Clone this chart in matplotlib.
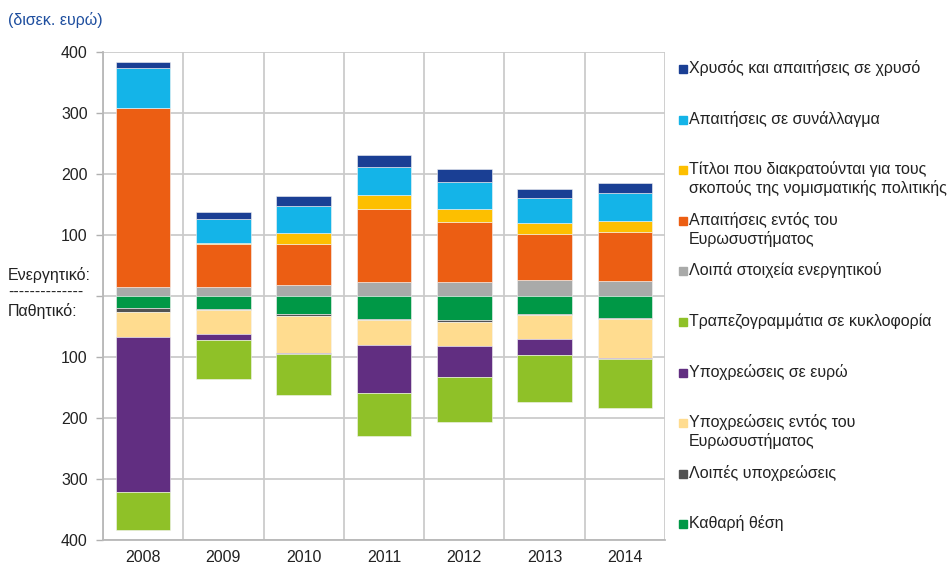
import numpy as np
import matplotlib
matplotlib.use('Agg')
import matplotlib.pyplot as plt
from matplotlib.patches import Rectangle

plt.rcParams['font.family'] = ['Liberation Sans', 'DejaVu Sans']

years = ['2008', '2009', '2010', '2011', '2012', '2013', '2014']

# ενεργητικό (από το μηδέν προς τα πάνω)
other_assets = [15, 15, 18, 23, 23, 25.7, 24.6]
intra_claims = [294, 70, 67, 119, 97.7, 76, 80.8]
securities = [0, 2.7, 18.5, 23.6, 22, 18, 18]
fx_claims = [64, 38, 44.5, 46.4, 44.4, 41, 45.8]
gold = [10.6, 12.3, 16.5, 19, 20.7, 14.4, 15.6]

# παθητικό (από το μηδέν προς τα κάτω)
net_position = [20, 21, 29.5, 38, 40, 30, 36.6]
other_liab = [7, 1.5, 2.5, 2, 2, 1, 1.5]
intra_liab = [41, 39, 61, 41, 40, 40, 63.5]
euro_liab = [253, 11, 2, 78, 51, 26, 2.2]
banknotes = [62, 64, 68, 70.5, 73.6, 76.7, 80]

assets = [
    (other_assets, 'Λοιπά στοιχεία ενεργητικού', '#a9aaa9'),
    (intra_claims, 'Απαιτήσεις εντός του\nΕυρωσυστήματος', '#ec5e13'),
    (securities, 'Τίτλοι που διακρατούνται για τους\nσκοπούς της νομισματικής πολιτικής', '#fdbf00'),
    (fx_claims, 'Απαιτήσεις σε συνάλλαγμα', '#14b4e8'),
    (gold, 'Χρυσός και απαιτήσεις σε χρυσό', '#1a3f94'),
]
liabs = [
    (net_position, 'Καθαρή θέση', '#009846'),
    (other_liab, 'Λοιπές υποχρεώσεις', '#525252'),
    (intra_liab, 'Υποχρεώσεις εντός του\nΕυρωσυστήματος', '#ffdc8f'),
    (euro_liab, 'Υποχρεώσεις σε ευρώ', '#612e81'),
    (banknotes, 'Τραπεζογραμμάτια σε κυκλοφορία', '#8fc128'),
]

fs = 11.5
fig = plt.figure(figsize=(9.48, 5.65), dpi=100)
ax = fig.add_axes([103 / 948, 25 / 565, 562 / 948, 488 / 565])

x = np.arange(len(years))
w = 0.68
bottom = np.zeros(len(years))
for vals, lab, col in assets:
    v = np.array(vals)
    ax.bar(x, v, w, bottom=bottom, color=col, edgecolor='#f4f4f4', linewidth=0.4, zorder=3)
    bottom += v
bottom = np.zeros(len(years))
for vals, lab, col in liabs:
    v = -np.array(vals)
    ax.bar(x, v, w, bottom=bottom, color=col, edgecolor='#f4f4f4', linewidth=0.4, zorder=3)
    bottom += v

ax.set_xlim(-0.5, len(years) - 0.5)
ax.set_ylim(-400, 400)
yt = np.arange(-400, 401, 100)
ax.set_yticks(yt)
ax.set_yticklabels([str(abs(t)) if t != 0 else '' for t in yt])
ax.set_xticks(x)
ax.set_xticklabels(years)
ax.set_xticks(np.arange(-0.5, len(years)), minor=True)
ax.tick_params(axis='x', which='both', length=0, pad=7, labelsize=fs, colors='#222222')
ax.tick_params(axis='y', length=5, color='#b0b0b0', width=1, pad=6, labelsize=fs, labelcolor='#222222')
ax.grid(axis='y', which='major', color='#cbcbcb', linewidth=1.3, zorder=0)
ax.grid(axis='x', which='minor', color='#cbcbcb', linewidth=1.3, zorder=0)
for s in ['top', 'right']:
    ax.spines[s].set_visible(False)
for s in ['left', 'bottom']:
    ax.spines[s].set_color('#b8b8b8')
    ax.spines[s].set_linewidth(1.3)

fig.text(8 / 948, 1 - 20 / 565, '(δισεκ. ευρώ)', color='#1f4f9f', fontsize=fs, va='center')
fig.text(8 / 948, 1 - 275 / 565, 'Ενεργητικό:', fontsize=fs, color='#222222', va='center')
fig.text(8 / 948, 1 - 292 / 565, '-' * 14, fontsize=fs, color='#222222', va='center')
fig.text(8 / 948, 1 - 311 / 565, 'Παθητικό:', fontsize=fs, color='#222222', va='center')

# υπόμνημα
entries = assets[::-1] + liabs[::-1]
for i, (vals, lab, col) in enumerate(entries):
    yc = 69 + i * 50.6
    fig.add_artist(Rectangle((679 / 948, 1 - (yc + 4) / 565), 8 / 948, 8 / 565,
                             transform=fig.transFigure, color=col))
    fig.text(689 / 948, 1 - (yc - 9) / 565, lab, fontsize=fs, color='#222222',
             va='top', linespacing=1.22)

fig.savefig('out.png', dpi=100)
